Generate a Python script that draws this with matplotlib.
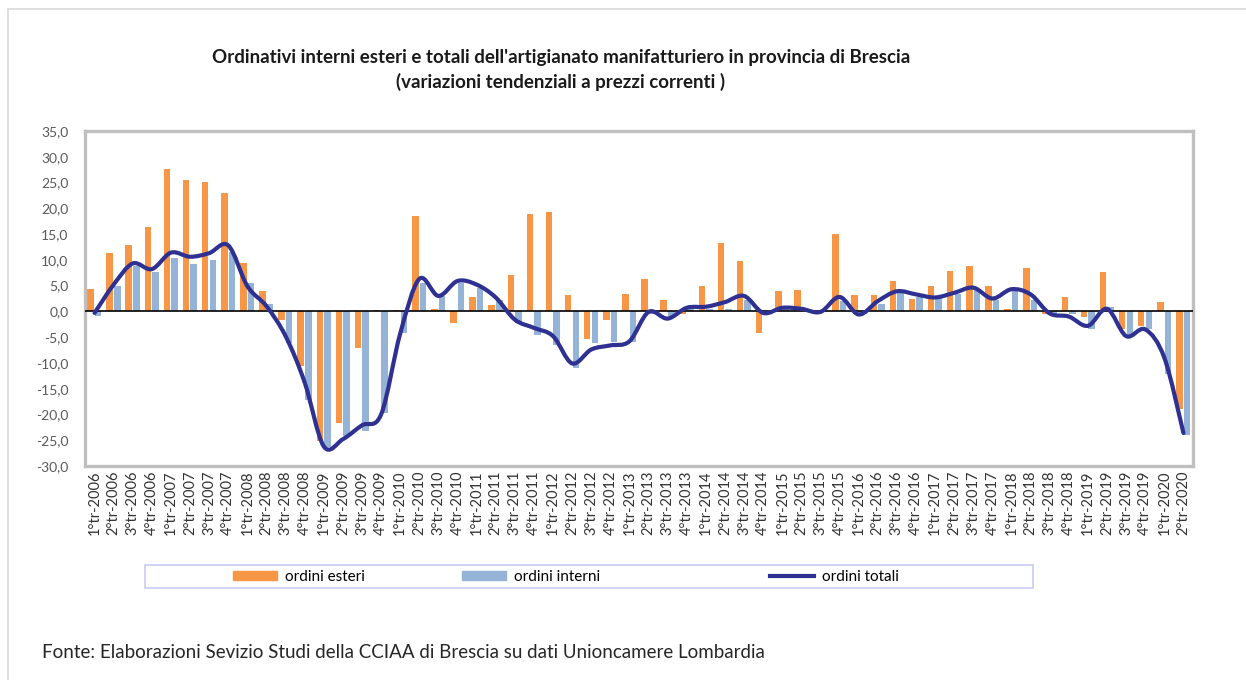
import matplotlib
matplotlib.use("Agg")
import matplotlib.pyplot as plt
import numpy as np
from matplotlib.path import Path
from matplotlib.patches import PathPatch, Patch, Rectangle
from matplotlib.lines import Line2D
from matplotlib.ticker import FuncFormatter

plt.rcParams['font.family'] = ['Lato', 'DejaVu Sans']

# quarters 1°tr-2006 .. 2°tr-2020
years = list(range(2006, 2021))
quarters = [f"{q}°tr-{y}" for y in years for q in range(1, 5)][:58]

esteri = [4.4, 11.3, 12.8, 16.4, 27.7, 25.5, 25.1, 23.0, 9.3, 3.9,
          -1.6, -10.6, -25.2, -21.7, -7.2, 0.3, 0.3, 18.5, 0.5, -2.3,
          2.8, 1.3, 7.0, 18.9, 19.3, 3.1, -5.4, -1.6, 3.3, 6.3,
          2.3, -0.6, 4.9, 13.3, 9.7, -4.1, 3.9, 4.1, 0.2, 15.1,
          3.1, 3.2, 5.8, 2.5, 5.0, 7.8, 8.8, 5.0, 0.4, 8.4,
          -0.5, 2.8, -1.0, 7.7, -3.4, -2.8, 1.9, -18.9]
interni = [-0.8, 4.9, 8.8, 7.6, 10.4, 9.1, 10.0, 11.5, 5.6, 1.5,
           -6.1, -17.1, -26.4, -24.2, -23.2, -19.7, -4.1, 5.6, 3.0, 5.6,
           4.6, 2.3, -2.3, -4.5, -6.6, -10.9, -6.2, -6.0, -6.0, -0.5,
           -0.9, 0.8, 0.4, 0.5, 2.3, -0.3, 0.8, 0.5, -0.2, 2.0,
           -0.5, 1.4, 3.6, 2.7, 2.7, 3.3, 4.3, 2.3, 3.9, 2.3,
           -0.9, -0.5, -3.5, 0.8, -4.8, -3.5, -12.2, -23.9]
totali = [-0.3, 5.2, 9.3, 8.2, 11.4, 10.6, 11.3, 12.8, 4.9, 1.0,
          -4.8, -13.8, -26.2, -24.8, -22.1, -20.0, -4.3, 6.3, 3.0, 5.9,
          5.2, 2.7, -1.6, -3.2, -4.8, -10.1, -7.4, -6.6, -5.8, -0.1,
          -1.4, 0.7, 0.9, 1.8, 3.0, -0.3, 0.7, 0.5, -0.1, 2.8,
          -0.6, 2.0, 3.9, 3.3, 2.7, 3.6, 4.6, 2.5, 4.3, 3.3,
          -0.4, -1.0, -2.8, 0.5, -4.8, -3.5, -9.0, -23.6]

c_est = '#F79646'
c_int = '#95B3D7'
c_tot = '#2E3192'

W, H = 1246, 680
fig = plt.figure(figsize=(W/100, H/100), dpi=100)
ax = fig.add_axes([85/W, 1-466/H, (1193-85)/W, (466-131)/H])

x = np.arange(len(quarters))
ax.bar(x - 0.21, esteri, width=0.34, color=c_est, zorder=2)
ax.bar(x + 0.19, interni, width=0.34, color=c_int, zorder=2)
ax.axhline(0, color='black', lw=1.2, zorder=3)

# smoothed line like the excel one (catmull-rom -> bezier)
y = np.array(totali, dtype=float)
verts = [(x[0], y[0])]
codes = [Path.MOVETO]
for i in range(len(x) - 1):
    p0 = np.array([x[max(i-1, 0)], y[max(i-1, 0)]])
    p1 = np.array([x[i], y[i]])
    p2 = np.array([x[i+1], y[i+1]])
    p3 = np.array([x[min(i+2, len(x)-1)], y[min(i+2, len(x)-1)]])
    c1 = p1 + (p2 - p0) / 6
    c2 = p2 - (p3 - p1) / 6
    verts += [tuple(c1), tuple(c2), tuple(p2)]
    codes += [Path.CURVE4] * 3
ax.add_patch(PathPatch(Path(verts, codes), fill=False, edgecolor=c_tot,
                       lw=3.0, capstyle='round', joinstyle='round', zorder=4))

ax.set_xlim(-0.5, len(quarters) - 0.5)
ax.set_ylim(-30, 35)
ax.set_yticks(np.arange(-30, 36, 5))
ax.yaxis.set_major_formatter(FuncFormatter(lambda v, p: f"{v:.1f}".replace('.', ',')))
ax.set_xticks(x)
ax.set_xticklabels(quarters, rotation=90, fontsize=10.5, color='#333333')
ax.tick_params(axis='both', length=0)
ax.tick_params(axis='x', pad=3)
ax.tick_params(axis='y', labelsize=10, labelcolor='#595959', pad=12)
for s in ax.spines.values():
    s.set_color('#BFBFBF')
    s.set_linewidth(2.4)

# legend: frame + three entries placed like the excel one
fig.add_artist(Rectangle((145/W, 1-588/H), (1033-145)/W, 23/H, transform=fig.transFigure,
                         fill=False, edgecolor='#C9C9F5', lw=1.2))
handles = [Patch(color=c_est, label='ordini esteri'),
           Patch(color=c_int, label='ordini interni'),
           Line2D([], [], color=c_tot, lw=3, label='ordini totali')]
for h, px in zip(handles, [233, 462, 770]):
    fig.legend(handles=[h], loc='center left', bbox_to_anchor=(px/W, 1-577/H),
               frameon=False, fontsize=11, handlelength=2.9, handleheight=0.6,
               borderpad=0, borderaxespad=0, handletextpad=0.5)

fig.text(561/W, 1-57/H, "Ordinativi interni esteri e totali dell'artigianato manifatturiero in provincia di Brescia",
         ha='center', va='center', fontsize=13.5, fontweight='bold', color='#1a1a1a')
fig.text(561/W, 1-82/H, "(variazioni tendenziali a prezzi correnti )",
         ha='center', va='center', fontsize=13.5, fontweight='bold', color='#1a1a1a')
fig.text(42/W, 1-652/H, "Fonte: Elaborazioni Sevizio Studi della CCIAA di Brescia su dati Unioncamere Lombardia",
         ha='left', va='center', fontsize=13.5, color='#262626')

# outer frame (top and left only visible)
fig.add_artist(Line2D([8/W, 1], [1-9/H, 1-9/H], color='#D9D9D9', lw=1.2))
fig.add_artist(Line2D([8/W, 8/W], [0, 1-9/H], color='#D9D9D9', lw=1.2))

fig.savefig('out.png', dpi=100)
